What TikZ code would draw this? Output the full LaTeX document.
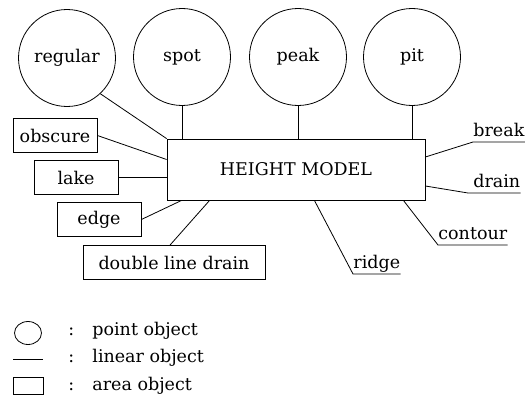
\documentclass[tikz,border=0pt]{standalone}
\usepackage{fontspec}
\setmainfont{DejaVu Serif}
\usetikzlibrary{shapes.geometric,calc}

\tikzset{
  base/.style={font=\fontsize{17.5}{20}\selectfont, line width=0.8pt},
  pointobj/.style={base, draw, circle, minimum size=97pt, inner sep=0pt, text height=12pt, text depth=2pt},
  areaobj/.style={base, draw, rectangle, minimum height=34pt, inner sep=0pt},
  model/.style={base, draw, rectangle, minimum width=258pt, minimum height=61pt, inner sep=0pt},
  linelabel/.style={base, anchor=south west, inner xsep=0pt, inner ysep=5pt, text depth=0pt},
  link/.style={line width=0.8pt},
  legendtext/.style={base, anchor=base west, inner sep=0pt}
}

\begin{document}
\begin{tikzpicture}[x=1pt, y=-1pt]
  \useasboundingbox (0,0) rectangle (525,396);

  % central area object
  \node[model] (hm) at (296,169.5) {HEIGHT MODEL};

  % point objects
  \node[pointobj] (regular) at (67,58) {regular};
  \node[pointobj] (spot)    at (182,57) {spot};
  \node[pointobj] (peak)    at (298,57) {peak};
  \node[pointobj] (pit)     at (412,57) {pit};

  % area objects on the left
  \node[areaobj, minimum width=84pt]  (obscure) at (55,135.5)  {obscure};
  \node[areaobj, minimum width=84pt]  (lake)    at (76,177.5)  {lake};
  \node[areaobj, minimum width=84pt]  (edge)    at (99,219.5)  {edge};
  \node[areaobj, minimum width=182pt] (dld)     at (174,262.5) {double line drain};

  % linear objects (underlined labels)
  \node[linelabel] (break)   at (473,142) {break};
  \node[linelabel] (drain)   at (468,193) {\hspace{5pt}drain};
  \node[linelabel] (contour) at (438,245) {contour};
  \node[linelabel] (ridge)   at (353,274) {ridge};

  % point connectors
  \draw[link] (regular.-47) -- (hm.north west);
  \draw[link] (spot.south) -- (spot.south |- hm.north);
  \draw[link] (peak.south) -- (peak.south |- hm.north);
  \draw[link] (pit.south) -- (pit.south |- hm.north);

  % area connectors
  \draw[link] (obscure.east) -- ([yshift=10pt]hm.west);
  \draw[link] (lake.east) -- (lake.east -| hm.west);
  \draw[link] (edge.east) -- ([xshift=15pt]hm.south west);
  \draw[link] ([xshift=-4pt]dld.north) -- ([xshift=43pt]hm.south west);

  % linear connectors
  \draw[link] ([yshift=12.5pt]hm.east) -- (break.south west) -- (break.south east);
  \draw[link] ([yshift=-16.5pt]hm.east) -- (drain.south west) -- (drain.south east);
  \draw[link] ([xshift=-22pt]hm.south east) -- (contour.south west) -- (contour.south east);
  \draw[link] ([xshift=-111pt]hm.south east) -- (ridge.south west) -- (ridge.south east);

  % legend
  \node[base, draw, ellipse, minimum width=27pt, minimum height=23pt, inner sep=0pt] (lgpoint) at (28,333) {};
  \coordinate (lglinea) at (13,359);
  \coordinate (lglineb) at (43,359);
  \draw[link] (lglinea) -- (lglineb);
  \node[base, draw, rectangle, minimum width=30pt, minimum height=17pt, inner sep=0pt] (lgarea) at (28,385.5) {};

  \node[legendtext] (c1) at (68,335) {:};
  \node[legendtext] (c2) at (68,362) {:};
  \node[legendtext] (c3) at (68,390) {:};
  \node[legendtext] (t1) at (92,335) {point object};
  \node[legendtext] (t2) at (92,362) {linear object};
  \node[legendtext] (t3) at (92,390) {area object};
\end{tikzpicture}
\end{document}
